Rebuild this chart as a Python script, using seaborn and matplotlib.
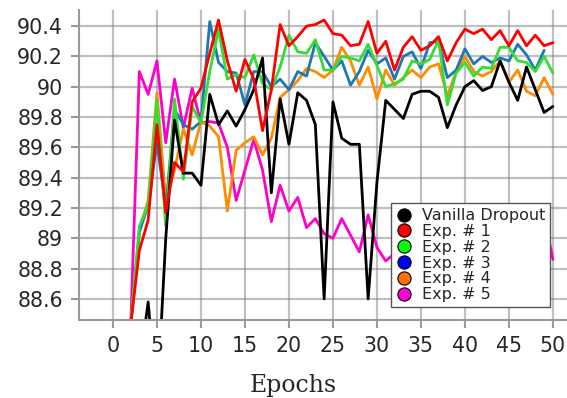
import numpy as np
import pandas as pd
import matplotlib
matplotlib.use("Agg")
import matplotlib.pyplot as plt
from matplotlib.lines import Line2D
import seaborn as sns

# validation accuracy per epoch
epochs = list(range(1, 51))
vanilla = [87.5, 87.8, 88.15, 88.58, 87.9, 89.0, 89.78, 89.43, 89.43, 89.35,
           89.95, 89.75, 89.84, 89.74, 89.85, 89.98, 90.19, 89.30, 89.92, 89.62,
           89.96, 89.91, 89.75, 88.60, 89.90, 89.66, 89.62, 89.62, 88.60, 89.37,
           89.91, 89.85, 89.79, 89.95, 89.97, 89.97, 89.93, 89.73, 89.88, 90.0,
           90.04, 89.975, 90.0, 90.17, 90.03, 89.91, 90.13, 89.98, 89.83, 89.87]
exp1 = [87.9, 88.42, 88.92, 89.12, 89.75, 89.17, 89.50, 89.44, 89.90, 89.99,
        90.22, 90.44, 90.17, 89.97, 90.18, 90.05, 89.71, 89.98, 90.41, 90.27,
        90.33, 90.40, 90.41, 90.44, 90.35, 90.34, 90.27, 90.28, 90.43, 90.22,
        90.30, 90.11, 90.26, 90.33, 90.24, 90.27, 90.33, 90.17, 90.29, 90.38,
        90.35, 90.38, 90.31, 90.37, 90.27, 90.37, 90.27, 90.34, 90.27, 90.29]
exp2 = [87.9, 88.42, 89.08, 89.22, 89.91, 89.08, 89.92, 89.39, 89.87, 89.76,
        90.10, 90.38, 90.05, 90.08, 90.06, 90.21, 90.02, 89.98, 90.13, 90.34,
        90.23, 90.22, 90.31, 90.11, 90.11, 90.20, 90.19, 90.17, 90.28, 90.14,
        90.0, 90.02, 90.05, 90.17, 90.15, 90.18, 90.31, 89.88, 90.09, 90.16,
        90.07, 90.13, 90.12, 90.26, 90.26, 90.17, 90.16, 90.10, 90.20, 90.09]
exp3 = [87.9, 88.42, 89.04, 89.22, 89.63, 89.2, 89.85, 89.75, 89.72, 89.77,
        90.43, 90.16, 90.10, 90.09, 89.88, 90.10, 90.10, 90.0, 90.05, 89.98,
        90.10, 90.07, 90.29, 90.20, 90.11, 90.17, 90.01, 90.10, 90.24, 90.15,
        90.19, 90.05, 90.20, 90.23, 90.12, 90.29, 90.30, 90.06, 90.11, 90.25,
        90.15, 90.20, 90.16, 90.19, 90.17, 90.28, 90.21, 90.11, 90.24, np.nan]
exp4 = [87.9, 88.42, 89.05, 89.25, 89.96, 89.25, 89.45, 89.72, 89.55, 89.77,
        89.74, 89.67, 89.18, 89.58, 89.63, 89.67, 89.55, 89.66, 89.93, 89.98,
        90.04, 90.12, 90.10, 90.06, 90.11, 90.26, 90.17, 90.01, 90.13, 89.92,
        90.11, 90.01, 90.06, 90.11, 90.06, 90.13, 90.15, 89.94, 90.10, 90.20,
        90.10, 90.07, 90.10, 90.17, 90.03, 90.11, 89.97, 89.94, 90.06, 89.95]
exp5 = [87.9, 88.40, 90.10, 89.95, 90.17, 89.63, 90.05, 89.73, 89.99, 89.76,
        89.77, 89.76, 89.60, 89.25, 89.45, 89.65, 89.45, 89.11, 89.35, 89.18,
        89.27, 89.07, 89.13, 89.03, 89.0, 89.13, 89.02, 88.91, 89.155, 88.94,
        88.85, 88.9, 88.92, 88.88, 88.95, 88.9, 88.87, 88.93, 88.85, 88.9,
        88.95, 88.88, 88.92, 88.86, 88.9, 88.95, 88.9, 88.92, 89.15, 88.86]

names = ["Vanilla Dropout", "Exp. # 1", "Exp. # 2", "Exp. # 3", "Exp. # 4", "Exp. # 5"]
line_colors = ["black", "#ff0000", "#33dd33", "#1f77b4", "#ff8c00", "#ff00c8"]
marker_colors = ["black", "#ff0000", "#00ff00", "#0000ff", "#ff7000", "#ff00dd"]

df = pd.DataFrame({
    "Epoch": epochs * 6,
    "Acc": vanilla + exp1 + exp2 + exp3 + exp4 + exp5,
    "Run": [n for n in names for _ in epochs],
}).dropna()

sns.set_style("white")
fig = plt.figure(figsize=(5.67, 3.98), dpi=100)
ax = fig.add_axes([79 / 567, 78 / 398, 488 / 567, 310 / 398])

draw_order = ["Exp. # 5", "Exp. # 4", "Exp. # 3", "Exp. # 2", "Vanilla Dropout", "Exp. # 1"]
for n in draw_order:
    sns.lineplot(data=df[df["Run"] == n], x="Epoch", y="Acc", color=line_colors[names.index(n)],
                 linewidth=2.0, ax=ax, legend=False)

ax.set_xlim(-3.86, 51.6)
ax.set_ylim(88.461, 90.506)
ax.set_xticks(range(0, 51, 5))
yt = [88.6, 88.8, 89.0, 89.2, 89.4, 89.6, 89.8, 90.0, 90.2, 90.4]
ax.set_yticks(yt)
ax.set_yticklabels(["%g" % v for v in yt])
ax.grid(True, color="gray", alpha=0.5, linewidth=1.6)
ax.tick_params(axis="both", labelsize=14.8, length=6, width=1.5, color="#999999",
               pad=5.5, direction="out", left=True, bottom=True)
for s in ["top", "right"]:
    ax.spines[s].set_visible(False)
for s in ["left", "bottom"]:
    ax.spines[s].set_color("#999999")
    ax.spines[s].set_linewidth(1.5)
ax.set_xlabel("")
ax.set_ylabel("")

fig.text(293 / 567, 1 - 392 / 398, "Epochs", ha="center", va="baseline",
         fontsize=17, family="DejaVu Serif")

handles = [Line2D([], [], linestyle="none", marker="o", markersize=9.5, markerfacecolor=c,
                  markeredgecolor="black", markeredgewidth=0.8) for c in marker_colors]
leg = ax.legend(handles, names, loc="lower right", bbox_to_anchor=(0.965, 0.042),
                borderaxespad=0, fontsize=11.5, labelspacing=0.05, handlelength=1.0,
                handletextpad=0.6, borderpad=0.3, fancybox=False, framealpha=1,
                edgecolor="#555555")
leg.get_frame().set_linewidth(1.0)

fig.savefig("out.png", dpi=100)
